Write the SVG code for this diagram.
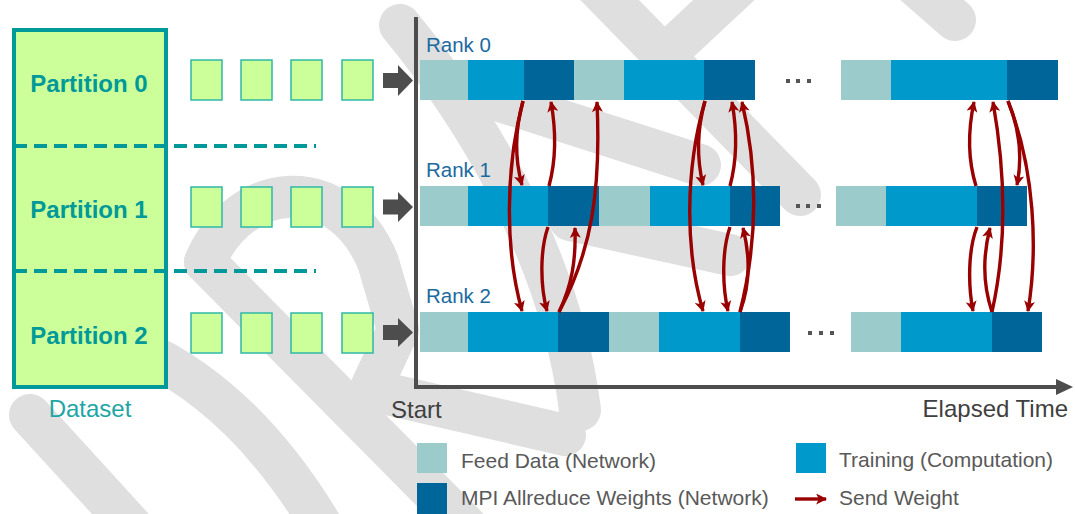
<svg xmlns="http://www.w3.org/2000/svg" width="1075" height="514" viewBox="0 0 1075 514">
<defs>
<style>
.wm{fill:none;stroke:#dfdfdf;stroke-width:42;stroke-linecap:round;stroke-linejoin:round}
.part{font-family:"Liberation Sans",Arial,sans-serif;font-weight:bold;font-size:24px;fill:#009999;text-anchor:middle}
.chunk{fill:#ccff99;stroke:#2fb8a8;stroke-width:1.5}
.feed{fill:#9bcbcb}
.train{fill:#0099cc}
.mpi{fill:#006699}
.rank{font-family:"Liberation Sans",Arial,sans-serif;font-size:20.5px;fill:#1a6aa0}
.lbl{font-family:"Liberation Sans",Arial,sans-serif;font-size:24px;fill:#404040}
.leg{font-family:"Liberation Sans",Arial,sans-serif;font-size:21px;fill:#595959}
.send{fill:none;stroke:#990000;stroke-width:3.4;marker-end:url(#ah)}
.dot{fill:#555555}
.garrow{fill:#4d4d4d}
</style>
<marker id="ah" viewBox="0 0 10 10" refX="9" refY="5" markerWidth="12" markerHeight="11" markerUnits="userSpaceOnUse" orient="auto">
<path d="M0,0 L10,5 L0,10 L2.5,5 z" fill="#990000"/>
</marker>
</defs>

<g id="watermark">
<path class="wm" d="M400,25 C470,110 560,250 580,410"/>
<path class="wm" d="M595,-15 L800,195"/>
<path class="wm" d="M450,85 L700,165"/>
<path class="wm" d="M740,-15 L665,55"/>
<path class="wm" d="M570,220 L730,255"/>
<path class="wm" d="M915,-15 L955,20"/>
<path class="wm" d="M205,262 C240,180 340,170 378,262 L398,330 L370,390 L565,435"/>
<path class="wm" d="M205,262 L480,540"/>
<path class="wm" d="M30,415 L135,530"/>
<path class="wm" d="M140,350 Q250,400 330,540"/>
</g>

<g id="dataset">
<rect x="14" y="30" width="152" height="357" fill="#ccff99" stroke="#009999" stroke-width="4"/>
<line x1="14" y1="146" x2="316" y2="146" stroke="#009999" stroke-width="4" stroke-dasharray="13,7"/>
<line x1="14" y1="271" x2="316" y2="271" stroke="#009999" stroke-width="4" stroke-dasharray="13,7"/>
<text class="part" x="89" y="92">Partition 0</text>
<text class="part" x="89" y="218">Partition 1</text>
<text class="part" x="89" y="344">Partition 2</text>
<text x="90" y="417" font-family="Liberation Sans, Arial, sans-serif" font-size="24" fill="#1ea5a5" text-anchor="middle">Dataset</text>
</g>

<g id="chunks">
<rect class="chunk" x="191" y="60" width="31" height="40"/>
<rect class="chunk" x="241" y="60" width="31" height="40"/>
<rect class="chunk" x="291" y="60" width="31" height="40"/>
<rect class="chunk" x="342" y="60" width="31" height="40"/>
<rect class="chunk" x="191" y="187" width="31" height="40"/>
<rect class="chunk" x="241" y="187" width="31" height="40"/>
<rect class="chunk" x="291" y="187" width="31" height="40"/>
<rect class="chunk" x="342" y="187" width="31" height="40"/>
<rect class="chunk" x="191" y="313" width="31" height="40"/>
<rect class="chunk" x="241" y="313" width="31" height="40"/>
<rect class="chunk" x="291" y="313" width="31" height="40"/>
<rect class="chunk" x="342" y="313" width="31" height="40"/>
</g>

<g id="feed-arrows">
<polygon class="garrow" points="383,73 398,73 398,65 413,80.5 398,96 398,88 383,88"/>
<polygon class="garrow" points="383,199.5 398,199.5 398,192 413,207 398,222 398,214.5 383,214.5"/>
<polygon class="garrow" points="383,325 398,325 398,318 413,332.5 398,347 398,340 383,340"/>
</g>

<g id="axes">
<line x1="416" y1="17" x2="416" y2="389" stroke="#4d4d4d" stroke-width="4"/>
<line x1="414" y1="387" x2="1060" y2="387" stroke="#4d4d4d" stroke-width="4"/>
<polygon points="1056,379 1073,387 1056,395" fill="#4d4d4d"/>
<text class="lbl" x="391" y="418">Start</text>
<text class="lbl" x="1068" y="417" text-anchor="end">Elapsed Time</text>
</g>

<g id="rank0">
<text class="rank" x="426" y="52">Rank 0</text>
<rect class="feed" x="420" y="60" width="48" height="40"/>
<rect class="train" x="468" y="60" width="56" height="40"/>
<rect class="mpi" x="524" y="60" width="50" height="40"/>
<rect class="feed" x="574" y="60" width="50" height="40"/>
<rect class="train" x="624" y="60" width="80" height="40"/>
<rect class="mpi" x="704" y="60" width="51" height="40"/>
<rect class="dot" x="786" y="79" width="4" height="4"/>
<rect class="dot" x="796" y="79" width="4" height="4"/>
<rect class="dot" x="807" y="79" width="4" height="4"/>
<rect class="feed" x="841" y="60" width="50" height="40"/>
<rect class="train" x="891" y="60" width="116" height="40"/>
<rect class="mpi" x="1007" y="60" width="51" height="40"/>
</g>

<g id="rank1">
<text class="rank" x="426" y="177">Rank 1</text>
<rect class="feed" x="420" y="186" width="48" height="40"/>
<rect class="train" x="468" y="186" width="80" height="40"/>
<rect class="mpi" x="548" y="186" width="51" height="40"/>
<rect class="feed" x="599" y="186" width="51" height="40"/>
<rect class="train" x="650" y="186" width="80" height="40"/>
<rect class="mpi" x="730" y="186" width="50" height="40"/>
<rect class="dot" x="796" y="204" width="4" height="4"/>
<rect class="dot" x="806" y="204" width="4" height="4"/>
<rect class="dot" x="817" y="204" width="4" height="4"/>
<rect class="feed" x="836" y="186" width="50" height="40"/>
<rect class="train" x="886" y="186" width="91" height="40"/>
<rect class="mpi" x="977" y="186" width="50" height="40"/>
</g>

<g id="rank2">
<text class="rank" x="426" y="303">Rank 2</text>
<rect class="feed" x="420" y="312" width="48" height="40"/>
<rect class="train" x="468" y="312" width="90" height="40"/>
<rect class="mpi" x="558" y="312" width="51" height="40"/>
<rect class="feed" x="609" y="312" width="50" height="40"/>
<rect class="train" x="659" y="312" width="81" height="40"/>
<rect class="mpi" x="740" y="312" width="50" height="40"/>
<rect class="dot" x="808" y="331" width="4" height="4"/>
<rect class="dot" x="819" y="331" width="4" height="4"/>
<rect class="dot" x="830" y="331" width="4" height="4"/>
<rect class="feed" x="851" y="312" width="50" height="40"/>
<rect class="train" x="901" y="312" width="91" height="40"/>
<rect class="mpi" x="992" y="312" width="50" height="40"/>
</g>

<g id="connectors">
<path class="send" d="M523,101 C515,130 515,160 522,185"/>
<path class="send" d="M523,101 C505,170 505,250 522,311"/>
<path class="send" d="M549,186 C556,160 556,130 551,102"/>
<path class="send" d="M559,312 C592,250 601,190 597,102"/>
<path class="send" d="M559,312 C572,285 576,260 575,228"/>
<path class="send" d="M548,227 C540,250 540,285 547,311"/>

<path class="send" d="M705,101 C697,130 697,160 703,185"/>
<path class="send" d="M705,101 C685,170 685,250 703,311"/>
<path class="send" d="M730,186 C737,160 737,130 732,102"/>
<path class="send" d="M740,312 C758,240 758,170 742,102"/>
<path class="send" d="M740,312 C750,285 750,255 743,228"/>
<path class="send" d="M730,227 C722,250 722,285 728,311"/>

<path class="send" d="M976,186 C968,160 968,130 974,102"/>
<path class="send" d="M992,312 C1008,240 1005,170 993,102"/>
<path class="send" d="M1008,101 C1020,130 1022,160 1017,185"/>
<path class="send" d="M1008,101 C1035,170 1038,250 1028,311"/>
<path class="send" d="M977,227 C968,250 968,285 973,311"/>
<path class="send" d="M992,312 C983,285 983,255 990,228"/>
</g>

<g id="legend">
<rect class="feed" x="417" y="443" width="30" height="30"/>
<text class="leg" x="461" y="468">Feed Data (Network)</text>
<rect class="mpi" x="417" y="483" width="30" height="31"/>
<text class="leg" x="461" y="505">MPI Allreduce Weights (Network)</text>
<rect class="train" x="796" y="443" width="30" height="30"/>
<text class="leg" x="839" y="467">Training (Computation)</text>
<line class="send" x1="795" y1="499" x2="826" y2="499"/>
<text class="leg" x="839" y="505">Send Weight</text>
</g>
</svg>
